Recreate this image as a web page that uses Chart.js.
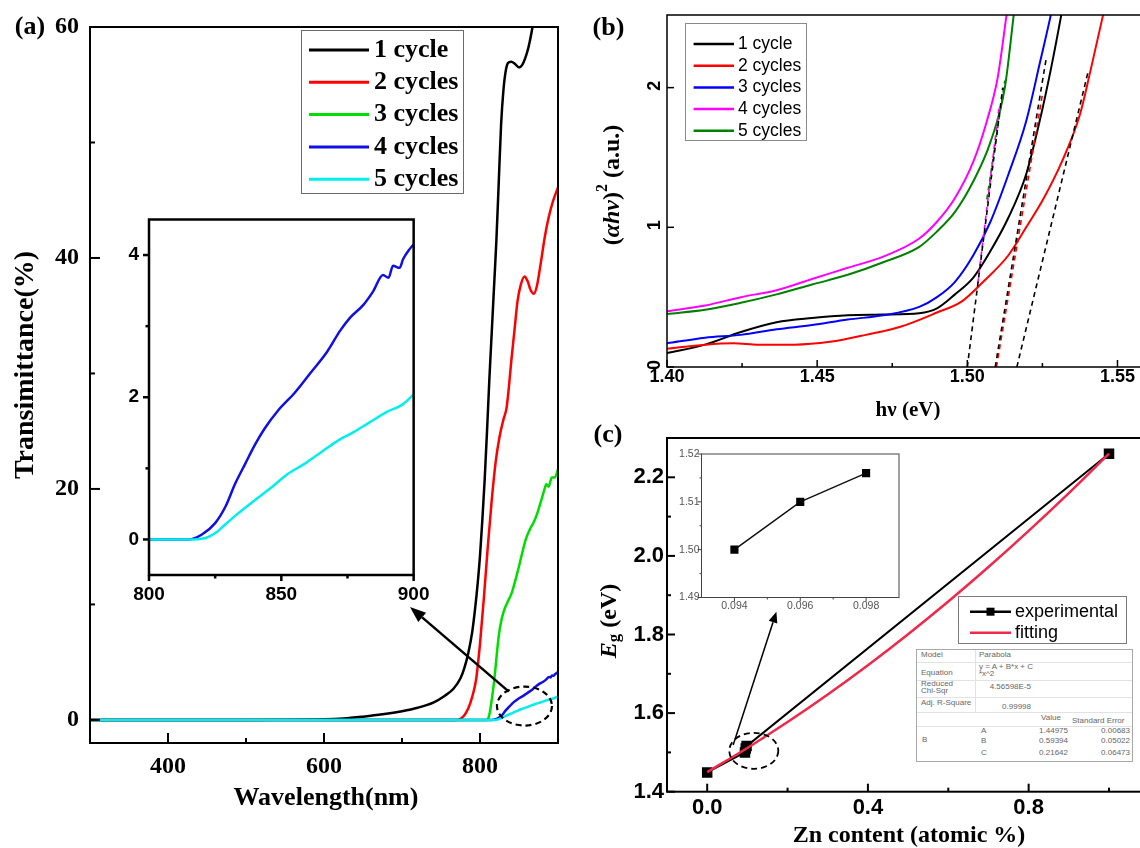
<!DOCTYPE html>
<html>
<head>
<meta charset="utf-8">
<title>Transmittance, Tauc plot and band gap</title>
<script src="https://cdn.jsdelivr.net/npm/chart.js@4.4.1/dist/chart.umd.min.js"></script>
<style>
  html, body { margin: 0; padding: 0; background: #fff; }
  body { position: relative; width: 1140px; height: 848px; overflow: hidden; }
  canvas { position: absolute; display: block; }
  #fitTable { position: absolute; left: 916px; top: 649px; width: 217px; height: 113px; border: 1px solid #a8a8a8;
              box-sizing: border-box; font: 8px "Liberation Sans", Arial, sans-serif; color: #666; background: #fff; }
  #fitTable span { position: absolute; line-height: 8px; white-space: nowrap; }
  #fitTable i { position: absolute; background: #e2e2e2; }
</style>
</head>
<body>
<canvas id="chartA" width="570" height="848" style="left:0;top:0"></canvas>
<canvas id="chartAin" width="340" height="420" style="left:100px;top:200px"></canvas>
<canvas id="chartB" width="580" height="420" style="left:580px;top:0"></canvas>
<canvas id="chartC" width="580" height="428" style="left:580px;top:420px"></canvas>
<canvas id="chartCin" width="240" height="175" style="left:670px;top:445px"></canvas>
<div id="fitTable"></div>
<script>
const SERIF = '"Liberation Serif", "Times New Roman", serif';
const SANS = '"Liberation Sans", Arial, sans-serif';

// ---- (a) пропускання, довжина хвилі (нм) / T (%) ----
const namesA = ['1 cycle', '2 cycles', '3 cycles', '4 cycles', '5 cycles'];
const colorsA = ['#000000', '#ff0000', '#00dd00', '#1010e6', '#00eeee'];
const wave1 = [300, 400, 500, 600, 625, 650, 675, 700, 720, 740, 755, 766, 775, 780, 785, 790, 794, 797, 800, 803, 806, 809, 812, 815, 818, 821, 824, 827, 830, 833, 836, 840, 845, 850, 854, 858, 862, 866, 870, 875];
const trans1 = [0, 0, 0, 0.05, 0.12, 0.28, 0.48, 0.75, 1.05, 1.5, 2.1, 2.7, 3.6, 4.5, 5.8, 7.6, 9.8, 11.8, 14.2, 17.3, 20.8, 25, 29.5, 33.5, 37.5, 41.5, 46.5, 51.5, 54.5, 56.2, 56.9, 57.0, 56.8, 56.5, 56.7, 57.3, 58.2, 59.5, 61.2, 64];
const wave2 = [300, 500, 700, 770, 775, 780, 785, 790, 795, 800, 805, 810, 815, 820, 825, 830, 834, 837, 840, 844, 848, 852, 857, 861, 865, 869, 873, 878, 883, 888, 894, 900];
const trans2 = [0, 0, 0, 0, 0.1, 0.4, 1.0, 2.0, 3.5, 6.6, 10.6, 15, 19, 22.3, 24.5, 26, 27, 28.8, 31, 33.6, 36.2, 37.6, 38.4, 38, 37.2, 36.9, 37.6, 39.6, 41.8, 43.5, 45, 46.1];
const wave3 = [300, 600, 800, 808, 811, 813, 815, 818, 820, 822, 824.5, 828, 831.5, 836, 840.7, 845, 850, 855, 859, 864, 868.7, 873, 878, 882, 885, 888, 892, 896, 900];
const trans3 = [0, 0, 0, 0, 0.2, 0.8, 1.7, 3.3, 4.6, 6, 7.5, 8.8, 9.6, 10.3, 11, 12, 13.3, 14.7, 15.7, 16.5, 17.1, 17.8, 18.9, 19.8, 20.4, 20.2, 21.0, 21.0, 21.7];
const wave4 = [300, 600, 800, 815, 820, 825, 829, 832.5, 836.3, 840, 843.7, 848.7, 855, 861, 867.3, 872.3, 876, 881, 884.7, 888.4, 890.5, 892.2, 894.7, 896, 898.4, 900];
const trans4 = [0, 0, 0, 0, 0.07, 0.23, 0.47, 0.78, 1.06, 1.33, 1.56, 1.81, 2.06, 2.34, 2.64, 2.94, 3.12, 3.30, 3.49, 3.72, 3.68, 3.85, 3.82, 3.94, 4.08, 4.15];
const wave5 = [300, 600, 800, 817, 821.4, 825.1, 828.8, 833.8, 840, 846.2, 852.4, 858.6, 864.8, 871, 877.3, 883.5, 889.7, 895.9, 900];
const trans5 = [0, 0, 0, 0, 0.02, 0.09, 0.21, 0.37, 0.55, 0.73, 0.92, 1.06, 1.22, 1.38, 1.51, 1.65, 1.79, 1.90, 2.04];
const ticksAX = [400, 600, 800], minorAX = [500, 700];
const ticksAY = [0, 20, 40, 60], minorAY = [10, 30, 50];
const ticksAinX = [800, 850, 900], minorAinX = [825, 875];
const ticksAinY = [0, 2, 4], minorAinY = [1, 3];
// обведена ділянка та хвіст стрілки (у координатах даних)
const ringA = [857, 1.2], arrowTailA = [837, 2.45];

// ---- (b) (αhν)^2 від hν ----
const namesB = ['1 cycle', '2 cycles', '3 cycles', '4 cycles', '5 cycles'];
const colorsB = ['#000000', '#ff0000', '#0000ff', '#ff00ff', '#008000'];
const ev1 = [1.400, 1.4127, 1.4246, 1.4365, 1.4483, 1.4602, 1.472, 1.484, 1.4899, 1.4959, 1.502, 1.5077, 1.5137, 1.5196, 1.5243, 1.5279, 1.5312, 1.534];
const ah1 = [0.10, 0.16, 0.25, 0.32, 0.35, 0.37, 0.375, 0.385, 0.42, 0.52, 0.64, 0.83, 1.07, 1.38, 1.78, 2.14, 2.51, 2.85];
const ev2 = [1.400, 1.4127, 1.4222, 1.4305, 1.4424, 1.4543, 1.4662, 1.478, 1.4899, 1.4982, 1.5053, 1.5137, 1.5196, 1.5255, 1.5315, 1.5374, 1.541, 1.5451, 1.548];
const ah2 = [0.13, 0.16, 0.17, 0.16, 0.16, 0.18, 0.23, 0.29, 0.39, 0.47, 0.61, 0.80, 1.0, 1.21, 1.47, 1.80, 2.12, 2.51, 2.8];
const ev3 = [1.400, 1.4127, 1.4246, 1.4365, 1.4483, 1.4602, 1.472, 1.484, 1.4899, 1.4959, 1.502, 1.5077, 1.5137, 1.5196, 1.5243, 1.5277, 1.530];
const ah3 = [0.17, 0.21, 0.23, 0.27, 0.30, 0.34, 0.37, 0.43, 0.50, 0.61, 0.80, 1.04, 1.38, 1.76, 2.19, 2.51, 2.75];
const ev4 = [1.400, 1.4127, 1.4246, 1.4365, 1.4483, 1.4602, 1.472, 1.484, 1.4899, 1.4959, 1.502, 1.5065, 1.5101, 1.513, 1.5145];
const ah4 = [0.40, 0.44, 0.50, 0.55, 0.63, 0.71, 0.79, 0.92, 1.04, 1.21, 1.47, 1.76, 2.07, 2.51, 2.75];
const ev5 = [1.400, 1.4127, 1.4246, 1.4365, 1.4483, 1.4602, 1.472, 1.484, 1.4899, 1.4959, 1.502, 1.5077, 1.5125, 1.5154, 1.517];
const ah5 = [0.38, 0.41, 0.46, 0.52, 0.59, 0.66, 0.75, 0.86, 0.97, 1.11, 1.33, 1.61, 2.0, 2.51, 2.8];
// дотичні (пунктир)
const tanEvA = [1.500, 1.5118], tanAhA = [0, 2.0];
const tanEvM = [1.5035, 1.5105], tanAhM = [0.6, 1.85];
const tanEvG = [1.5065, 1.5125], tanAhG = [1.2, 2.05];
const tanEvB = [1.5093, 1.5262], tanAhB = [0, 2.2];
const tanEvR = [1.5097, 1.5250], tanAhR = [0, 1.95];
const tanEvC = [1.5165, 1.5404], tanAhC = [0, 2.13];
const ticksBX = [1.40, 1.45, 1.50, 1.55], minorBX = [1.425, 1.475, 1.525];
const ticksBY = [0, 1, 2];

// ---- (c) Eg від вмісту Zn ----
const zn = [0, 0.094, 0.096, 0.098, 1.0];
const eg = [1.449, 1.500, 1.510, 1.516, 2.26];
const fitZn = [0, 0.1, 0.2, 0.3, 0.4, 0.5, 0.6, 0.7, 0.8, 0.9, 1.0];
const fitEg = [1.4498, 1.5113, 1.5772, 1.6474, 1.7220, 1.8009, 1.8840, 1.9716, 2.0635, 2.1596, 2.2601];
const ticksCX = [0, 0.4, 0.8], minorCX = [0.2, 0.6, 1.0];
const ticksCY = [1.4, 1.6, 1.8, 2.0, 2.2], minorCY = [1.5, 1.7, 1.9, 2.1];
const ticksCinX = [0.094, 0.096, 0.098], minorCinX = [0.095, 0.097];
const ticksCinY = [1.49, 1.50, 1.51, 1.52], minorCinY = [1.495, 1.505, 1.515];
const ringC = [0.116, 1.504], arrowTailC = [0.0647, 1.519];

// таблиця параметрів апроксимації
const tableCells = [
  ['Model', 4, 5], ['Parabola', 62, 5],
  ['Equation', 4, 23], ['y = A + B*x + C', 62, 17], ['*x^2', 62, 24],
  ['Reduced', 4, 34], ['Chi-Sqr', 4, 41], ['4.56598E-5', 114, 37, 'r'],
  ['Adj. R-Square', 4, 53], ['0.99998', 114, 57, 'r'],
  ['Value', 124, 68], ['Standard Error', 155, 71],
  ['A', 64, 81], ['1.44975', 151, 81, 'r'], ['0.00683', 213, 81, 'r'],
  ['B', 5, 90], ['B', 64, 91], ['0.59394', 151, 91, 'r'], ['0.05022', 213, 91, 'r'],
  ['C', 64, 103], ['0.21642', 151, 103, 'r'], ['0.06473', 213, 103, 'r']
];

Chart.defaults.font.family = SANS;
Chart.defaults.color = '#000';

function pts(xs, ys) { return xs.map((x, i) => ({ x: x, y: ys[i] })); }

function curve(label, xs, ys, color, width, order) {
  return { label, data: pts(xs, ys), borderColor: color, backgroundColor: color, borderWidth: width,
           pointRadius: 0, cubicInterpolationMode: 'monotone', order };
}

function dashed(xs, ys, color) {
  return { label: '', legendSkip: true, data: pts(xs, ys), borderColor: color, borderWidth: 1.6,
           borderDash: [5, 4], pointRadius: 0, tension: 0, order: -10 };
}

function axis(o) {
  return {
    type: 'linear', bounds: 'data', min: o.min, max: o.max,
    afterBuildTicks: s => { s.ticks = o.ticks.map(v => ({ value: v })); },
    afterFit: s => { if (s.isHorizontal()) s.height = o.fit; else s.width = o.fit; },
    grid: { display: false, drawTicks: false },
    border: { display: false },
    ticks: { display: o.show !== false, autoSkip: false, minRotation: 0, maxRotation: 0, padding: o.pad,
             color: o.color || '#000', font: o.font, callback: v => o.fmt(v) }
  };
}

function text(c, parts, x, y, rot) {
  c.save();
  c.translate(x, y); c.rotate(rot || 0);
  c.textBaseline = 'middle'; c.textAlign = 'left'; c.fillStyle = '#000';
  let w = 0;
  parts.forEach(p => { c.font = p.f; w += c.measureText(p.t).width; });
  let cx = -w / 2;
  parts.forEach(p => { c.font = p.f; c.fillText(p.t, cx, p.dy || 0); cx += c.measureText(p.t).width; });
  c.restore();
}

function legendBox(chart, c, L) {
  c.save();
  c.strokeStyle = L.border; c.lineWidth = 1; c.setLineDash([]);
  c.strokeRect(L.x + 0.5, L.y + 0.5, L.w, L.h);
  let row = 0;
  chart.data.datasets.forEach(ds => {
    if (ds.legendSkip) return;
    const y = L.first + row * L.rowH;
    c.strokeStyle = ds.borderColor; c.lineWidth = L.lw;
    c.beginPath(); c.moveTo(L.x1, y); c.lineTo(L.x2, y); c.stroke();
    if (ds.pointRadius > 0) {
      c.fillStyle = ds.pointBackgroundColor;
      c.fillRect((L.x1 + L.x2) / 2 - L.mark / 2, y - L.mark / 2, L.mark, L.mark);
    }
    c.fillStyle = '#000'; c.font = L.font; c.textBaseline = 'middle'; c.textAlign = 'left';
    c.fillText(ds.label, L.tx, y);
    row++;
  });
  c.restore();
}

function ring(c, x, y, rx, ry, lw) {
  c.save();
  c.strokeStyle = '#000'; c.lineWidth = lw; c.setLineDash([6, 4]);
  c.beginPath(); c.ellipse(x, y, rx, ry, 0, 0, Math.PI * 2); c.stroke();
  c.restore();
}

function arrow(c, x1, y1, x2, y2, lw, head, hw) {
  const a = Math.atan2(y2 - y1, x2 - x1);
  const bx = x2 - head * Math.cos(a), by = y2 - head * Math.sin(a);
  c.save();
  c.strokeStyle = '#000'; c.fillStyle = '#000'; c.lineWidth = lw; c.setLineDash([]);
  c.beginPath(); c.moveTo(x1, y1); c.lineTo(bx, by); c.stroke();
  c.beginPath(); c.moveTo(x2, y2);
  c.lineTo(bx + hw * Math.sin(a), by - hw * Math.cos(a));
  c.lineTo(bx - hw * Math.sin(a), by + hw * Math.cos(a));
  c.closePath(); c.fill();
  c.restore();
}

// рамка, штрихи осей та підписи
function deco(o) {
  return {
    id: 'deco',
    beforeDatasetsDraw(chart) {
      if (!o.fill) return;
      const a = chart.chartArea, c = chart.ctx;
      c.save(); c.fillStyle = o.fill; c.fillRect(a.left, a.top, a.right - a.left, a.bottom - a.top); c.restore();
    },
    afterDraw(chart) {
      const c = chart.ctx, a = chart.chartArea, xs = chart.scales.x, ys = chart.scales.y;
      c.save();
      c.strokeStyle = o.color || '#000'; c.lineWidth = o.frame; c.setLineDash([]);
      c.strokeRect(a.left, a.top, a.right - a.left, a.bottom - a.top);
      const dir = o.inward ? 1 : -1;
      const tick = (vals, len, isX) => vals.forEach(v => {
        c.beginPath();
        if (isX) { const p = xs.getPixelForValue(v); c.moveTo(p, a.bottom); c.lineTo(p, a.bottom - dir * len); }
        else { const p = ys.getPixelForValue(v); c.moveTo(a.left, p); c.lineTo(a.left + dir * len, p); }
        c.stroke();
      });
      tick(xs.ticks.map(t => t.value), o.major, true);
      tick(o.xMinor || [], o.minor, true);
      tick(ys.ticks.map(t => t.value), o.major, false);
      tick(o.yMinor || [], o.minor, false);
      c.restore();
      if (o.after) o.after(chart, c, xs, ys);
    }
  };
}

function makeChart(id, datasets, xAxis, yAxis, padTop, padRight, plugin) {
  return new Chart(document.getElementById(id), {
    type: 'line',
    data: { datasets },
    options: {
      responsive: false, animation: false, events: [], devicePixelRatio: 1,
      layout: { padding: { left: 0, bottom: 0, top: padTop, right: padRight } },
      plugins: { legend: { display: false }, tooltip: { enabled: false } },
      scales: { x: xAxis, y: yAxis }
    },
    plugins: [plugin]
  });
}

// ---------- (a) ----------
const wavesA = [wave1, wave2, wave3, wave4, wave5];
const transA = [trans1, trans2, trans3, trans4, trans5];
makeChart('chartA',
  namesA.map((n, i) => curve(n, wavesA[i], transA[i], colorsA[i], 2.5, -i)),
  axis({ min: 300, max: 900, ticks: ticksAX, fmt: v => String(v), fit: 105, pad: 12,
         font: { family: SERIF, size: 24, weight: 'bold', lineHeight: 1 } }),
  axis({ min: -2, max: 60, ticks: ticksAY, fmt: v => String(v), fit: 90, pad: 11,
         font: { family: SERIF, size: 24, weight: 'bold', lineHeight: 1 } }),
  27, 12,
  deco({ frame: 2, major: 10, minor: 5, inward: true, xMinor: minorAX, yMinor: minorAY,
    after(chart, c, xs, ys) {
      legendBox(chart, c, { x: 301, y: 30, w: 162, h: 163, first: 50, rowH: 32.3, x1: 309, x2: 369, tx: 374,
                            lw: 3, font: 'bold 26px ' + SERIF, border: '#6a6a6a', mark: 0 });
      ring(c, xs.getPixelForValue(ringA[0]), ys.getPixelForValue(ringA[1]), 27.5, 19.5, 2.2);
      arrow(c, xs.getPixelForValue(arrowTailA[0]), ys.getPixelForValue(arrowTailA[1]), 410, 607, 2.5, 16, 6);
      text(c, [{ t: '(a)', f: 'bold 26px ' + SERIF }], 30, 27, 0);
      text(c, [{ t: 'Transimittance(%)', f: 'bold 28px ' + SERIF }], 26, 365, -Math.PI / 2);
      text(c, [{ t: 'Wavelength(nm)', f: 'bold 26px ' + SERIF }], 326, 798, 0);
    } })
);

makeChart('chartAin',
  [3, 4].map(i => curve(namesA[i], wavesA[i], transA[i], colorsA[i], 2.5, -i)),
  axis({ min: 800, max: 900, ticks: ticksAinX, fmt: v => String(v), fit: 45, pad: 10.5,
         font: { family: SANS, size: 19, weight: 'bold', lineHeight: 1 } }),
  axis({ min: -0.5, max: 4.5, ticks: ticksAinY, fmt: v => String(v), fit: 49, pad: 10,
         font: { family: SANS, size: 19, weight: 'bold', lineHeight: 1 } }),
  13.3, 22.7,
  deco({ frame: 2.5, major: 6, minor: 3.5, inward: false, fill: '#fff', xMinor: minorAinX, yMinor: minorAinY })
);

// ---------- (b) ----------
const evB = [ev1, ev2, ev3, ev4, ev5];
const ahB = [ah1, ah2, ah3, ah4, ah5];
makeChart('chartB',
  namesB.map((n, i) => curve(n, evB[i], ahB[i], colorsB[i], 2, -i)).concat([
    dashed(tanEvA, tanAhA, '#000'), dashed(tanEvM, tanAhM, '#ff00ff'), dashed(tanEvG, tanAhG, '#008000'),
    dashed(tanEvB, tanAhB, '#000'), dashed(tanEvR, tanAhR, '#ff0000'), dashed(tanEvC, tanAhC, '#000')
  ]),
  axis({ min: 1.40, max: 1.56, ticks: ticksBX, fmt: v => v.toFixed(2), fit: 53, pad: 1,
         font: { family: SANS, size: 18, weight: 'bold', lineHeight: 1 } }),
  axis({ min: 0, max: 2.52, ticks: ticksBY, fmt: v => String(v), fit: 87, pad: 6, show: false,
         font: { family: SANS, size: 18, weight: 'bold', lineHeight: 1 } }),
  15, 12.5,
  deco({ frame: 1.5, major: 7, minor: 4, inward: true, xMinor: minorBX,
    after(chart, c, xs, ys) {
      legendBox(chart, c, { x: 105, y: 23, w: 121, h: 117, first: 44, rowH: 21.7, x1: 113.6, x2: 154, tx: 158,
                            lw: 2.5, font: '17.5px ' + SANS, border: '#8a8a8a', mark: 0 });
      ticksBY.forEach(v => text(c, [{ t: String(v), f: 'bold 18px ' + SANS }], 75, ys.getPixelForValue(v) - 2, -Math.PI / 2));
      text(c, [{ t: '(b)', f: 'bold 26px ' + SERIF }], 28.5, 28, 0);
      text(c, [{ t: 'hν (eV)', f: 'bold 21px ' + SERIF }], 328, 411, 0);
      text(c, [
        { t: '(', f: 'bold 24px ' + SERIF },
        { t: 'αhν', f: 'bold italic 24px ' + SERIF },
        { t: ')', f: 'bold 24px ' + SERIF },
        { t: '2', f: 'bold 16px ' + SERIF, dy: -10 },
        { t: ' (a.u.)', f: 'bold 24px ' + SERIF }
      ], 33, 185, -Math.PI / 2);
    } })
);

// ---------- (c) ----------
makeChart('chartC', [
    { label: 'experimental', data: pts(zn, eg), borderColor: '#000', backgroundColor: '#000', borderWidth: 2,
      pointStyle: 'rect', pointRadius: 6, pointBackgroundColor: '#000', pointBorderColor: '#000', tension: 0, order: 0 },
    curve('fitting', fitZn, fitEg, '#f0284a', 2.5, -1)
  ],
  axis({ min: -0.1, max: 1.1, ticks: ticksCX, fmt: v => v.toFixed(1), fit: 56.3, pad: 5,
         font: { family: SANS, size: 22, weight: 'bold', lineHeight: 1 } }),
  axis({ min: 1.4, max: 2.3, ticks: ticksCY, fmt: v => v.toFixed(1), fit: 87, pad: 3,
         font: { family: SANS, size: 22, weight: 'bold', lineHeight: 1 } }),
  18, 10.8,
  deco({ frame: 2, major: 8, minor: 4, inward: true, xMinor: minorCX, yMinor: minorCY,
    after(chart, c, xs, ys) {
      legendBox(chart, c, { x: 378, y: 176, w: 168, h: 47, first: 191.7, rowH: 21, x1: 390, x2: 431, tx: 435,
                            lw: 2.5, font: '18px ' + SANS, border: '#7a7a7a', mark: 8 });
      ring(c, xs.getPixelForValue(ringC[0]), ys.getPixelForValue(ringC[1]), 24.5, 18, 1.8);
      arrow(c, xs.getPixelForValue(arrowTailC[0]), ys.getPixelForValue(arrowTailC[1]), 196.4, 191.7, 1.5, 11, 4.5);
      text(c, [{ t: '(c)', f: 'bold 26px ' + SERIF }], 28, 15, 0);
      text(c, [{ t: 'Zn content (atomic %)', f: 'bold 24px ' + SERIF }], 329, 416, 0);
      text(c, [
        { t: 'E', f: 'bold italic 24px ' + SERIF },
        { t: 'g', f: 'bold 17px ' + SERIF, dy: 5 },
        { t: ' (eV)', f: 'bold 24px ' + SERIF }
      ], 30, 201, -Math.PI / 2);
    } })
);

makeChart('chartCin', [
    { label: 'experimental', data: pts(zn.slice(1, 4), eg.slice(1, 4)), borderColor: '#111', backgroundColor: '#111',
      borderWidth: 1.5, pointStyle: 'rect', pointRadius: 4.7, pointBackgroundColor: '#000', pointBorderColor: '#000', tension: 0 }
  ],
  axis({ min: 0.093, max: 0.099, ticks: ticksCinX, fmt: v => v.toFixed(3), fit: 22.5, pad: 3, color: '#555',
         font: { family: SANS, size: 10.5, lineHeight: 1 } }),
  axis({ min: 1.49, max: 1.52, ticks: ticksCinY, fmt: v => v.toFixed(2), fit: 31.5, pad: 2, color: '#555',
         font: { family: SANS, size: 10.5, lineHeight: 1 } }),
  9, 11,
  deco({ frame: 1, color: '#444', major: 4, minor: 2, inward: false, fill: '#fff', xMinor: minorCinX, yMinor: minorCinY })
);

// таблиця
const tbl = document.getElementById('fitTable');
[12, 30, 47, 62, 76].forEach(y => {
  const l = document.createElement('i');
  l.style.cssText = 'left:0;right:0;top:' + y + 'px;height:1px';
  tbl.appendChild(l);
});
const vl = document.createElement('i');
vl.style.cssText = 'left:58px;top:0;width:1px;height:62px';
tbl.appendChild(vl);
tableCells.forEach(([t, x, y, al]) => {
  const s = document.createElement('span');
  s.textContent = t;
  s.style.top = (y - 4) + 'px';
  if (al === 'r') s.style.right = (215 - x) + 'px';
  else s.style.left = x + 'px';
  tbl.appendChild(s);
});
</script>
</body>
</html>
